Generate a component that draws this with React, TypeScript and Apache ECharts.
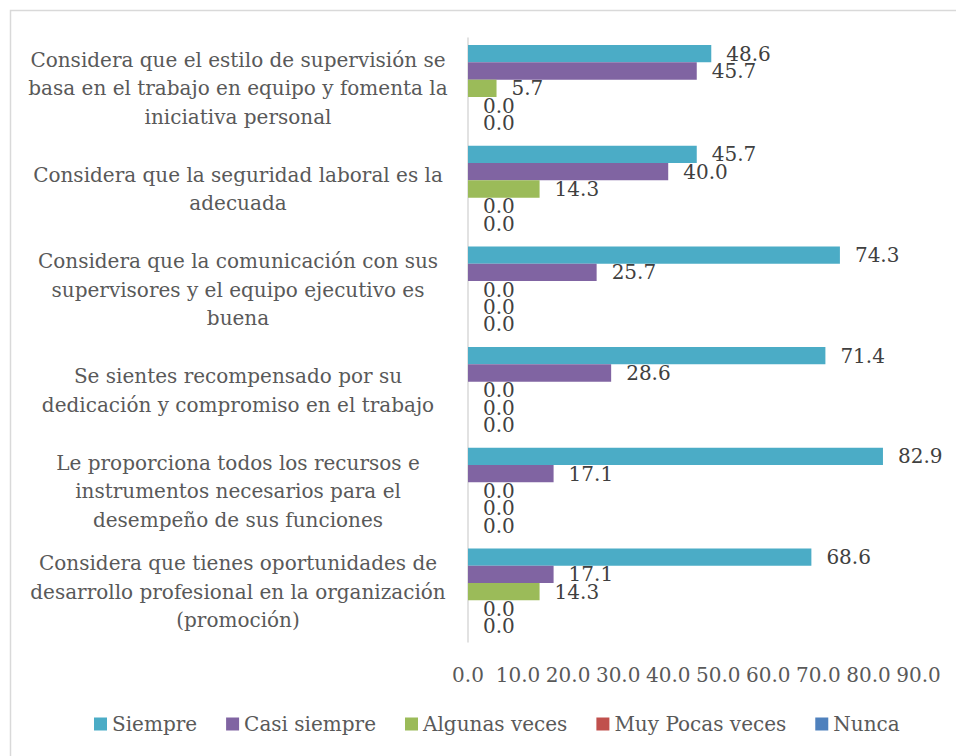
import React, { useEffect, useRef } from "react";
import * as echarts from "echarts";

const categories = [
  "Considera que el estilo de supervisión se\nbasa en el trabajo en equipo y fomenta la\niniciativa personal",
  "Considera que la seguridad laboral es la\nadecuada",
  "Considera que la comunicación con sus\nsupervisores y el equipo ejecutivo es\nbuena",
  "Se sientes recompensado por su\ndedicación y compromiso en el trabajo",
  "Le proporciona todos los recursos e\ninstrumentos necesarios para el\ndesempeño de sus funciones",
  "Considera que tienes oportunidades de\ndesarrollo profesional en la organización\n(promoción)",
];

const seriesNames = ["Siempre", "Casi siempre", "Algunas veces", "Muy Pocas veces", "Nunca"];
const siempre = [48.6, 45.7, 74.3, 71.4, 82.9, 68.6];
const casiSiempre = [45.7, 40.0, 25.7, 28.6, 17.1, 17.1];
const algunasVeces = [5.7, 14.3, 0.0, 0.0, 0.0, 14.3];
const muyPocasVeces = [0.0, 0.0, 0.0, 0.0, 0.0, 0.0];
const nunca = [0.0, 0.0, 0.0, 0.0, 0.0, 0.0];
const colors = ["#4BACC6", "#8064A2", "#9BBB59", "#C0504D", "#4F81BD"];

const FONT = "'DejaVu Serif', serif";
const FS = 20;

export default function App() {
  const ref = useRef<HTMLDivElement>(null);
  useEffect(() => {
    if (!ref.current) return;
    const chart = echarts.init(ref.current, undefined, { renderer: "svg" });
    const values = [siempre, casiSiempre, algunasVeces, muyPocasVeces, nunca];
    chart.setOption({
      animation: false,
      textStyle: { fontFamily: FONT },
      graphic: [
        {
          type: "rect",
          shape: { x: 10.5, y: 10.5, width: 960, height: 760 },
          style: { fill: "none", stroke: "#d9d9d9", lineWidth: 1.5 },
          silent: true,
        },
      ],
      legend: {
        top: 709,
        left: 89,
        itemWidth: 13,
        itemHeight: 13,
        itemGap: 29,
        icon: "rect",
        textStyle: { fontSize: FS, color: "#595959", fontFamily: FONT },
        data: seriesNames,
      },
      grid: { left: 468, right: 37.5, top: 38, bottom: 114 },
      xAxis: {
        type: "value",
        min: 0,
        max: 90,
        interval: 10,
        axisLine: { show: false },
        axisTick: { show: false },
        splitLine: { show: false },
        axisLabel: {
          margin: 23,
          fontSize: FS,
          color: "#595959",
          fontFamily: FONT,
          formatter: (v: number) => v.toFixed(1),
        },
      },
      yAxis: {
        type: "category",
        inverse: true,
        data: categories,
        axisLine: { show: true, lineStyle: { color: "#d9d9d9", width: 1.5 } },
        axisTick: { show: false },
        axisLabel: {
          align: "center",
          margin: 230,
          fontSize: FS,
          lineHeight: 28.5,
          color: "#595959",
          fontFamily: FONT,
        },
      },
      series: seriesNames.map((name, i) => ({
        name,
        type: "bar",
        data: values[i],
        barGap: "0%",
        barCategoryGap: "14%",
        itemStyle: { color: colors[i] },
        label: {
          show: true,
          position: "right",
          distance: 15,
          fontSize: FS,
          color: "#404040",
          fontFamily: FONT,
          formatter: (p: any) => Number(p.value).toFixed(1),
        },
      })),
    });
    return () => chart.dispose();
  }, []);
  return (
    <div
      ref={ref}
      style={{ position: "fixed", left: 0, top: 0, width: 956, height: 756, background: "#fff" }}
    />
  );
}
